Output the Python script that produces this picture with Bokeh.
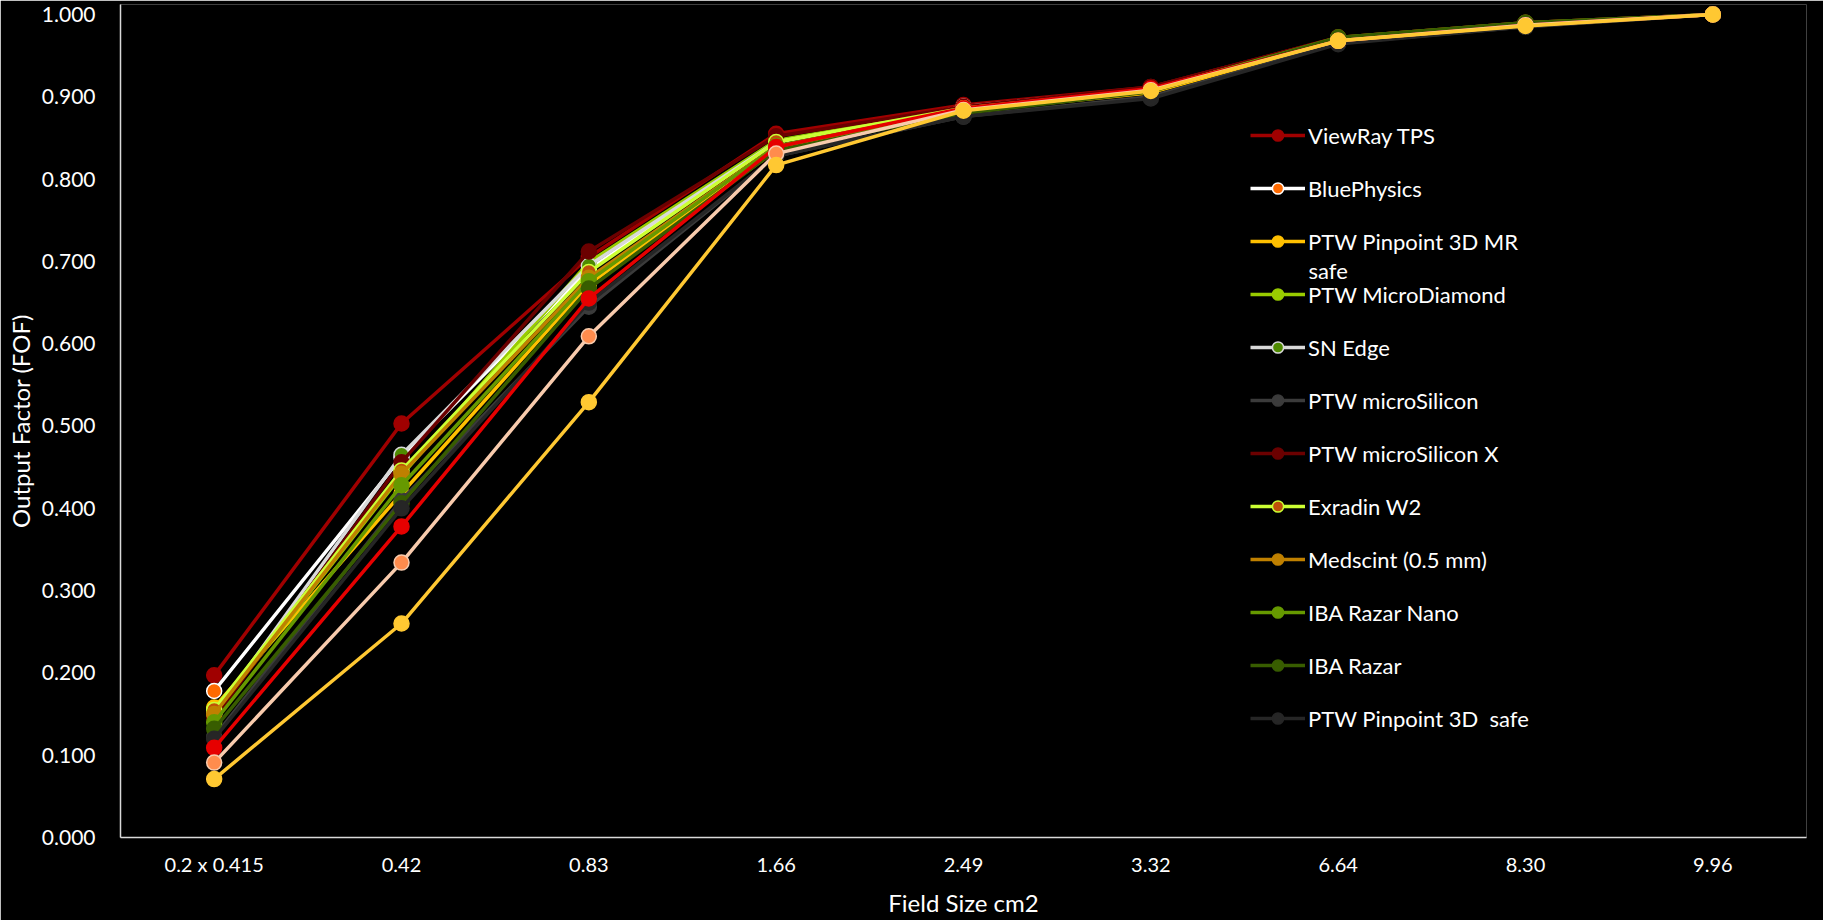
from bokeh.plotting import figure
from bokeh.models import FactorRange, Range1d, Legend, LegendItem, Label
from bokeh.embed import file_html
from bokeh.resources import INLINE

# Field sizes (categorical x axis)
field_sizes = ["0.2 x 0.415", "0.42", "0.83", "1.66", "2.49", "3.32", "6.64", "8.30", "9.96"]

# Field output factors per detector
viewray_tps = [0.197, 0.503, 0.705, 0.855, 0.890, 0.912, 0.972, 0.990, 1.000]
bluephysics = [0.178, 0.462, 0.690, 0.845, 0.888, 0.910, 0.970, 0.988, 1.000]
pinpoint_3d_mr_safe = [0.158, 0.418, 0.672, 0.835, 0.882, 0.905, 0.968, 0.986, 1.000]
microdiamond = [0.150, 0.440, 0.699, 0.847, 0.886, 0.908, 0.970, 0.988, 1.000]
sn_edge = [0.150, 0.465, 0.695, 0.845, 0.885, 0.908, 0.970, 0.988, 1.000]
microsilicon = [0.122, 0.410, 0.645, 0.828, 0.876, 0.900, 0.965, 0.985, 1.000]
microsilicon_x = [0.145, 0.456, 0.712, 0.852, 0.888, 0.912, 0.972, 0.990, 1.000]
exradin_w2 = [0.155, 0.446, 0.687, 0.845, 0.886, 0.909, 0.970, 0.988, 1.000]
medscint = [0.150, 0.442, 0.680, 0.840, 0.884, 0.907, 0.969, 0.987, 1.000]
razar_nano = [0.140, 0.428, 0.676, 0.840, 0.884, 0.908, 0.972, 0.990, 1.000]
razar = [0.132, 0.406, 0.667, 0.835, 0.880, 0.906, 0.972, 0.990, 1.000]
pinpoint_3d_safe = [0.120, 0.400, 0.650, 0.828, 0.876, 0.898, 0.964, 0.985, 1.000]
series_13 = [0.109, 0.378, 0.655, 0.839, 0.886, 0.910, 0.968, 0.987, 1.000]
series_14 = [0.091, 0.334, 0.609, 0.831, 0.884, 0.908, 0.968, 0.987, 1.000]
series_15 = [0.071, 0.260, 0.529, 0.817, 0.883, 0.907, 0.968, 0.986, 1.000]

# (legend label, values, line colour, marker fill, marker outline)
series = [
    ("ViewRay TPS", viewray_tps, "#a00000", "#a00000", "#a00000"),
    ("BluePhysics", bluephysics, "#ffffff", "#ff6a00", "#ffffff"),
    ("PTW Pinpoint 3D MR", pinpoint_3d_mr_safe, "#ffc000", "#ffc000", "#ffc000"),
    ("PTW MicroDiamond", microdiamond, "#99cc00", "#99cc00", "#99cc00"),
    ("SN Edge", sn_edge, "#d9d9d9", "#4f8a00", "#d9d9d9"),
    ("PTW microSilicon", microsilicon, "#3b3b3b", "#3b3b3b", "#3b3b3b"),
    ("PTW microSilicon X", microsilicon_x, "#6b0000", "#6b0000", "#6b0000"),
    ("Exradin W2", exradin_w2, "#ccff33", "#c0500a", "#ccff33"),
    ("Medscint (0.5 mm)", medscint, "#bf8000", "#bf8000", "#bf8000"),
    ("IBA Razar Nano", razar_nano, "#669900", "#669900", "#669900"),
    ("IBA Razar", razar, "#385d00", "#385d00", "#385d00"),
    ("PTW Pinpoint 3D  safe", pinpoint_3d_safe, "#262626", "#262626", "#262626"),
    (None, series_13, "#e60000", "#e60000", "#e60000"),
    (None, series_14, "#f8cbad", "#ff8c4d", "#f8cbad"),
    (None, series_15, "#ffc832", "#ffc832", "#ffc832"),
]

FONT = "Lato"
BG = "#000000"

p = figure(
    width=1823, height=920,
    x_range=FactorRange(*field_sizes),
    y_range=Range1d(0, 1.01215),
    output_backend="svg", toolbar_location=None,
    background_fill_color=BG, border_fill_color=BG,
    min_border_left=120, min_border_right=17,
    min_border_top=4, min_border_bottom=83,
)
p.outline_line_color = None
p.grid.grid_line_color = None

items = []
for label, vals, lc, fc, oc in series:
    ln = p.line(field_sizes, vals, line_color=lc, line_width=3.5)
    sc = p.scatter(field_sizes, vals, size=15, fill_color=fc,
                   line_color=oc, line_width=1.5)
    if label is not None:
        items.append(LegendItem(label=label, renderers=[ln, sc]))

legend = Legend(
    items=items, location=(1130, 105),
    padding=0, margin=0, spacing=25,
    label_height=28, glyph_height=28, glyph_width=55, label_standoff=3,
    label_text_font=FONT, label_text_font_size="22px", label_text_color="#ffffff",
    background_fill_alpha=0, border_line_alpha=0,
)
p.add_layout(legend, "center")

# second line of the wrapped legend entry
p.add_layout(Label(x=1188, y=567, x_units="screen", y_units="screen",
                   text="safe", text_font=FONT, text_font_size="22px",
                   text_color="#ffffff", text_baseline="middle"))

ticks = [0.0, 0.1, 0.2, 0.3, 0.4, 0.5, 0.6, 0.7, 0.8, 0.9, 1.0]
p.yaxis.ticker = ticks
p.yaxis.major_label_overrides = {v: f"{v:.3f}" for v in ticks}
p.yaxis.axis_label = "Output Factor (FOF)"
p.xaxis.axis_label = "Field Size cm2"

for ax in (p.xaxis, p.yaxis):
    ax.axis_line_color = "#d9d9d9"
    ax.axis_line_width = 1.5
    ax.major_tick_line_color = None
    ax.minor_tick_line_color = None
    ax.major_tick_out = 0
    ax.major_tick_in = 0
    ax.major_label_text_font = FONT
    ax.major_label_text_color = "#ffffff"
    ax.axis_label_text_font = FONT
    ax.axis_label_text_font_size = "24px"
    ax.axis_label_text_font_style = "normal"
    ax.axis_label_text_color = "#ffffff"

p.yaxis.major_label_text_font_size = "21px"
p.xaxis.major_label_text_font_size = "20px"
p.yaxis.major_label_standoff = 25
p.xaxis.major_label_standoff = 14
p.xaxis.axis_label_standoff = 9
p.yaxis.axis_label_standoff = 4

open("out.html", "w").write(file_html(p, INLINE))
